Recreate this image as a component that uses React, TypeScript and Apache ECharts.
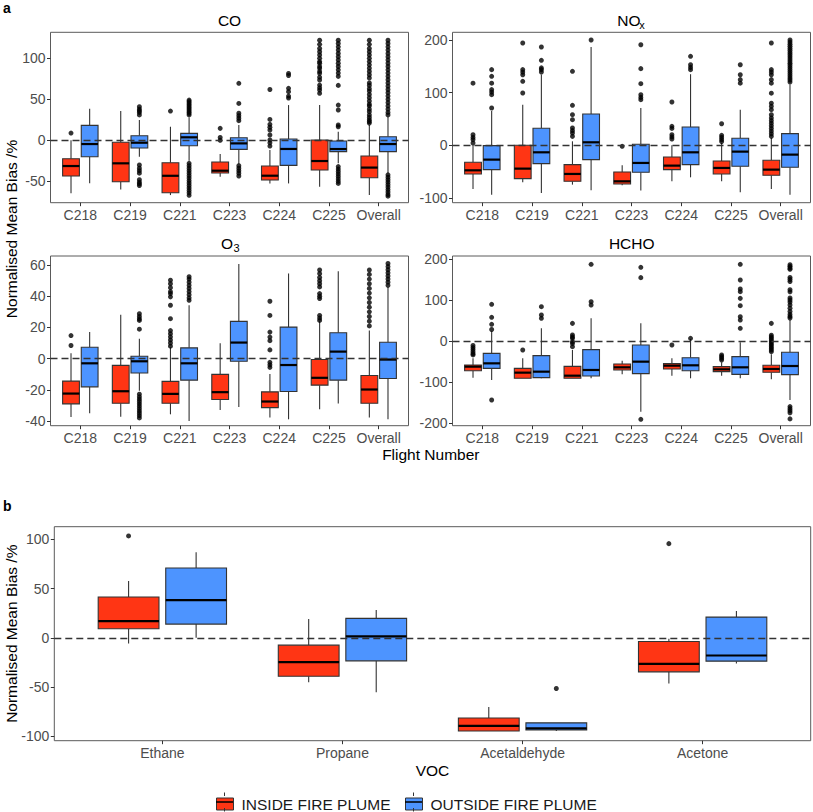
import React, { useEffect, useRef } from 'react';
import * as echarts from 'echarts';

// ---------- DATA ----------
const FLIGHTS = ['C218', 'C219', 'C221', 'C223', 'C224', 'C225', 'Overall'];
const VOCS = ['Ethane', 'Propane', 'Acetaldehyde', 'Acetone'];
const GROUPS = ['INSIDE FIRE PLUME', 'OUTSIDE FIRE PLUME'];

// box statistics: [lower whisker, Q1, median, Q3, upper whisker]
const CO_INSIDE = [
  [-64.6, -43.5, -31.3, -22.4, 0],
  [-59.8, -50.5, -28, -2.4, 35.7],
  [-66.7, -63.9, -43.2, -27.3, 16.6],
  [-44.3, -39.8, -37, -26.4, -16.7],
  [-52.5, -48.4, -43.1, -31.3, -11.8],
  [-56.5, -36.2, -25.2, 0.4, 43],
  [-66.7, -45.6, -33.2, -19.1, 18.7],
];
const CO_OUTSIDE = [
  [-52.4, -20, -4.5, 18.3, 38.5],
  [-20, -9.4, -2.9, 5.6, 24.8],
  [-25, -6.6, 3.7, 8.5, 28],
  [-29, -11, -3.7, 3.2, 18.7],
  [-52.5, -30.5, -10.5, 1.6, 43],
  [-28, -13.8, -10.6, -0.8, 10.5],
  [-40.3, -13.8, -4.5, 4.4, 28.8],
];
const CO_INSIDE_OUTLIERS = [
  [8.9],
  [],
  [35.7],
  [14.6, 3.5, 0],
  [62, 25.5, 19.5, 16, 12.5, 6.5, 0.4, -3, -7],
  [122, 117, 112, 108, 104, 100, 96, 94, 90, 87.8, 84, 81.7, 77, 73.6, 67.4, 64, 61.3, 57.3],
  [122, 117, 112, 108, 104, 100, 96, 92, 88, 84, 80, 76, 70, 67, 63, 60, 56, 52, 48, 44, 42, 38, 35, 31, 28, 25, 23, 21],
];
const CO_OUTSIDE_OUTLIERS = [
  [],
  [41, 38, 36, 34, 31, -30, -34, -37, -40, -48, -51, -53, -55],
  [49, 47, 45, 43, 41, 39, 37, 35, 33, 31, -28, -31, -34, -37, -40, -43, -46, -49, -52, -55, -58, -61, -64, -67],
  [69.5, 45, 33, 30, 27, 24, -31, -34, -37, -40, -43.5],
  [81.6, 79, 63.4, 59.3, 54, 51.5],
  [122, 118, 114, 110, 106, 102, 98, 94, 90, 86, 82, 78, 67, 43, 37, 18.7, 16.6, -32, -35, -38, -41, -44, -47, -50, -52.5],
  [122, 118, 114, 110, 106, 102, 98, 94, 90, 86, 82, 78, 74, 70, 66, 62, 58, 54, 50, 46, 42, 38, 34, 31, -42, -45, -48, -51, -54, -57, -60, -63, -66, -68],
];

const NOX_INSIDE = [
  [-83, -54.4, -47.5, -32.3, 0],
  [-70.3, -63.3, -44.3, 0, 77.2],
  [-74.7, -68.4, -54.4, -36.7, 7.6],
  [-76, -73.4, -68.4, -50.6, -38],
  [-68.4, -46.2, -38.6, -22.2, 0],
  [-68.4, -54.4, -43, -29.7, 4.4],
  [-83, -57, -46.2, -28.5, 13.9],
];
const NOX_OUTSIDE = [
  [-93.7, -46.2, -27.2, -0.6, 65],
  [-90.5, -34.8, -13.3, 32.3, 134],
  [-85.4, -27.2, 5.7, 59.5, 186.7],
  [-86, -51.3, -33.5, 1.9, 70.9],
  [-60.8, -36.7, -13.3, 34.8, 135],
  [-89.2, -39.9, -12, 13.3, 67.7],
  [-93.7, -41.8, -17.7, 22.2, 115],
];
const NOX_INSIDE_OUTLIERS = [
  [118, 20, 15, 10.8, 4.4],
  [194.3, 143.7, 139, 134, 121.5, 99.4],
  [140.5, 75.9, 58.2, 48.7, 33, 28, 23.4, 17],
  [-1.9],
  [82.3, 36, 32, 20, 16, 12],
  [41, 19, 15, 10.8, 7],
  [194.3, 143.7, 139, 134, 124.7, 118, 99, 80, 74, 67.7, 58, 52, 47, 42, 37, 32, 27, 22, 17],
];
const NOX_OUTSIDE_OUTLIERS = [
  [143.7, 131, 118, 105.7, 101, 96.2, 70.9],
  [186.7, 161.4, 147, 143.7, 139],
  [200],
  [191, 145.6, 117, 96, 91, 86.7],
  [169, 153, 148, 143.7],
  [153, 134, 124.7, 118],
  [200, 196, 192, 188, 184, 180, 176, 172, 168, 164, 160, 156, 152, 148, 144, 140, 136, 132, 128, 124, 120],
];

const O3_INSIDE = [
  [-37.4, -29, -22.4, -14.4, 3.4],
  [-37.2, -28.6, -20.9, -4.3, 28.2],
  [-35.7, -28.6, -22.6, -14.6, 7.3],
  [-32.9, -26.2, -21.5, -10.1, 9.9],
  [-37.8, -31.4, -27.5, -21.3, -9.9],
  [-32.5, -17, -12.3, -0.6, 23.9],
  [-37.8, -28.6, -19.8, -10.8, 18.1],
];
const O3_OUTSIDE = [
  [-35, -18.1, -3, 7.3, 17],
  [-20.6, -9.2, -1.7, 1.5, 12.7],
  [-40, -13.8, -3, 6.9, 34.2],
  [-31, -1.7, 10.3, 23.9, 60.6],
  [-38.9, -21.1, -4.1, 20.2, 54.6],
  [-28.8, -13.8, 4.5, 16.6, 56.1],
  [-38.9, -12.7, -0.6, 10.5, 46],
];
const O3_INSIDE_OUTLIERS = [
  [14.8, 8.4],
  [],
  [50.3, 48, 45.5, 43, 41.7, 39.6, 34.2, 25.6, 18, 16, 14, 12, 10, 8],
  [],
  [36.8, 27.7, 17, 13.8, 11.5, 5.6, -2.4, -4, -5.6],
  [56.8, 54.5, 52, 50, 48, 46, 41.7, 40, 38.5, 27.7, 26, 24.5],
  [56.8, 54, 51, 48, 45, 42, 39, 36, 33, 30, 27, 24, 21],
];
const O3_OUTSIDE_OUTLIERS = [
  [],
  [28.8, 27, 25.5, 24.5, 18.9, -22.8, -24.5, -26, -27.5, -29, -30.5, -32, -33.5, -35, -36.5, -38],
  [52.5, 51, 49, 47, 45, 43, 41, 39, 37.4],
  [],
  [],
  [],
  [61, 59, 57, 55, 53, 51, 49, 47],
];

const HCHO_INSIDE = [
  [-89.4, -72.4, -62.6, -58.5, -42.3],
  [-91, -91, -77.2, -66.7, -42.3],
  [-91, -91, -84.6, -61.8, -22],
  [-81.3, -70.7, -64.2, -56, -48],
  [-84.6, -68.3, -60.2, -55.3, -42.3],
  [-84.6, -74.8, -69.1, -62.6, -52],
  [-93.5, -76.4, -68.3, -59.3, -32.5],
];
const HCHO_OUTSIDE = [
  [-95.1, -66.7, -54.5, -30.1, 24],
  [-91, -89.4, -74.8, -35.8, 30.9],
  [-91, -85.4, -70.7, -21.1, 55.3],
  [-172.4, -79.7, -50.4, -9.8, 43],
  [-91, -72.4, -59.3, -40.7, 4.9],
  [-91, -81.3, -64.2, -38.2, -3.3],
  [-143.9, -82.1, -61, -27.6, 51.2],
];
const HCHO_INSIDE_OUTLIERS = [
  [-11, -16, -21, -26, -31, -34],
  [-22],
  [43, 14.6, 10, 6.5, -1.6, -6, -13.8],
  [],
  [-9.8],
  [-34, -38, -42, -46.3],
  [43, 14, 10, 6, 2, -2, -6, -10, -14, -18, -22, -26],
];
const HCHO_OUTSIDE_OUTLIERS = [
  [89.4, 57.7, 40.7, 28, -143.9],
  [83.7, 63.4, 55.3],
  [187, 95.9, 87.8],
  [179.7, 154.5, -191],
  [6.5],
  [187, 148.8, 126.8, 120.3, 104, 86.2, 59.3, 51.2, 30.9],
  [186, 182, 178, 175, 155, 150, 145, 125, 120, 105, 100, 95, 88, 80, 72, 65, 60, 56, -160, -165, -170, -175, -190],
];

const VOC_INSIDE = [
  [-5.8, 9.2, 16.9, 41.4, 57.6],
  [-45.1, -39, -24.7, -7.5, 19],
  [-94.6, -94.6, -89.5, -81.4, -70.2],
  [-46.4, -34.6, -26.4, -3.7, -1],
];
const VOC_OUTSIDE = [
  [0, 13.9, 38.3, 70.8, 86.8],
  [-55.3, -23.4, 1.4, 19.7, 28.1],
  [-94.6, -93.6, -91.9, -86.4, -86.4],
  [-26.1, -23.7, -18, 21, 27.1],
];
const VOC_INSIDE_OUTLIERS = [[103.4], [], [], [95.6]];
const VOC_OUTSIDE_OUTLIERS = [[], [], [-51.5], []];

// tick labels
const CO_TICKS = [-50, 0, 50, 100];
const NOX_TICKS = [-100, 0, 100, 200];
const O3_TICKS = [-40, -20, 0, 20, 40, 60];
const HCHO_TICKS = [-200, -100, 0, 100, 200];
const VOC_TICKS = [-100, -50, 0, 50, 100];

// ---------- STYLE ----------
const FONT = '"Liberation Sans", Arial, Helvetica, sans-serif';
const COLORS = ['#FF3514', '#4D94FF'];
const DODGE = 0.1875;
const BOX_W = 0.3375;
const LINE = '#333333';

function makeRender(off: number, color: string) {
  return (_params: any, api: any) => {
    const x = api.value(0) + off;
    const lo = api.coord([x, api.value(1)]);
    const q1 = api.coord([x, api.value(2)]);
    const med = api.coord([x, api.value(3)]);
    const q3 = api.coord([x, api.value(4)]);
    const hi = api.coord([x, api.value(5)]);
    const cx = med[0];
    const w = api.size([BOX_W, 0])[0];
    return {
      type: 'group',
      children: [
        { type: 'line', shape: { x1: cx, y1: hi[1], x2: cx, y2: q3[1] }, style: { stroke: LINE, lineWidth: 1.1 } },
        { type: 'line', shape: { x1: cx, y1: q1[1], x2: cx, y2: lo[1] }, style: { stroke: LINE, lineWidth: 1.1 } },
        {
          type: 'rect',
          shape: { x: cx - w / 2, y: q3[1], width: w, height: q1[1] - q3[1] },
          style: { fill: color, stroke: LINE, lineWidth: 1.1 },
        },
        { type: 'line', shape: { x1: cx - w / 2, y1: med[1], x2: cx + w / 2, y2: med[1] }, style: { stroke: '#000', lineWidth: 2.2 } },
      ],
    };
  };
}

interface Panel {
  cats: string[];
  inside: number[][];
  outside: number[][];
  inOut: number[][];
  outOut: number[][];
  ticks: number[];
  yMin: number;
  yMax: number;
  grid: { left: number; top: number; width: number; height: number };
}

const PANELS: Panel[] = [
  { cats: FLIGHTS, inside: CO_INSIDE, outside: CO_OUTSIDE, inOut: CO_INSIDE_OUTLIERS, outOut: CO_OUTSIDE_OUTLIERS, ticks: CO_TICKS, yMin: -76, yMax: 131.7, grid: { left: 50.5, top: 32.3, width: 358, height: 170.4 } },
  { cats: FLIGHTS, inside: NOX_INSIDE, outside: NOX_OUTSIDE, inOut: NOX_INSIDE_OUTLIERS, outOut: NOX_OUTSIDE_OUTLIERS, ticks: NOX_TICKS, yMin: -109, yMax: 214.6, grid: { left: 452.5, top: 32.3, width: 358, height: 170.4 } },
  { cats: FLIGHTS, inside: O3_INSIDE, outside: O3_OUTSIDE, inOut: O3_INSIDE_OUTLIERS, outOut: O3_OUTSIDE_OUTLIERS, ticks: O3_TICKS, yMin: -43, yMax: 65.8, grid: { left: 50.5, top: 256, width: 358, height: 169.7 } },
  { cats: FLIGHTS, inside: HCHO_INSIDE, outside: HCHO_OUTSIDE, inOut: HCHO_INSIDE_OUTLIERS, outOut: HCHO_OUTSIDE_OUTLIERS, ticks: HCHO_TICKS, yMin: -206.6, yMax: 207.3, grid: { left: 452.5, top: 256, width: 358, height: 169.7 } },
  { cats: VOCS, inside: VOC_INSIDE, outside: VOC_OUTSIDE, inOut: VOC_INSIDE_OUTLIERS, outOut: VOC_OUTSIDE_OUTLIERS, ticks: VOC_TICKS, yMin: -104.5, yMax: 112.8, grid: { left: 54.3, top: 526.7, width: 756.4, height: 214 } },
];

function buildOption() {
  const grid: any[] = [];
  const xAxis: any[] = [];
  const yAxis: any[] = [];
  const series: any[] = [];

  PANELS.forEach((p, idx) => {
    grid.push({ ...p.grid, show: true, borderColor: '#5a5a5a', borderWidth: 1, backgroundColor: 'transparent' });
    const catIdx = p.cats.map((_, i) => i);
    xAxis.push({
      type: 'value',
      gridIndex: idx,
      position: 'bottom',
      min: -0.6,
      max: p.cats.length - 0.4,
      splitLine: { show: false },
      axisLine: { show: false, onZero: false },
      axisTick: { show: true, customValues: catIdx, length: 3.5, lineStyle: { color: LINE } },
      axisLabel: {
        customValues: catIdx,
        formatter: (v: number) => p.cats[Math.round(v)] ?? '',
        fontSize: 14,
        color: '#4D4D4D',
        fontFamily: FONT,
        margin: 5,
      },
    });
    yAxis.push({
      type: 'value',
      gridIndex: idx,
      position: 'left',
      min: p.yMin,
      max: p.yMax,
      splitLine: { show: false },
      axisLine: { show: false, onZero: false },
      axisTick: { show: true, customValues: p.ticks, length: 3.5, lineStyle: { color: LINE } },
      axisLabel: { customValues: p.ticks, fontSize: 14, color: '#4D4D4D', fontFamily: FONT, margin: 5 },
    });

    const statSets = [p.inside, p.outside];
    const outSets = [p.inOut, p.outOut];
    [0, 1].forEach((g) => {
      const off = g === 0 ? -DODGE : DODGE;
      series.push({
        type: 'custom',
        name: GROUPS[g],
        xAxisIndex: idx,
        yAxisIndex: idx,
        z: 2,
        itemStyle: { color: COLORS[g], borderColor: LINE, borderWidth: 1 },
        renderItem: makeRender(off, COLORS[g]),
        encode: { x: 0, y: [1, 2, 3, 4, 5] },
        data: statSets[g].map((s, i) => [i, ...s]),
        silent: true,
      });
      series.push({
        type: 'scatter',
        name: GROUPS[g] + ' outliers',
        xAxisIndex: idx,
        yAxisIndex: idx,
        z: 3,
        symbolSize: 5,
        itemStyle: { color: '#000' },
        silent: true,
        data: outSets[g].flatMap((arr, i) => arr.map((v) => [i + off, v])),
      });
    });
    series.push({
      type: 'line',
      name: 'zero',
      xAxisIndex: idx,
      yAxisIndex: idx,
      z: 4,
      data: [],
      markLine: {
        silent: true,
        symbol: ['none', 'none'],
        label: { show: false },
        lineStyle: { color: '#333', type: [7, 4], width: 1.4 },
        data: [{ yAxis: 0 }],
      },
    });
  });

  const titleStyle = { fill: '#000', fontSize: 15.5, fontFamily: FONT, fontWeight: 'normal' };
  const graphic: any[] = [
    { type: 'text', x: 3, y: 8, style: { text: 'a', fontSize: 14, fontWeight: 'bold', fontFamily: FONT, fill: '#000', textVerticalAlign: 'middle' } },
    { type: 'text', x: 3, y: 506, style: { text: 'b', fontSize: 14, fontWeight: 'bold', fontFamily: FONT, fill: '#000', textVerticalAlign: 'middle' } },
    { type: 'text', x: 229.5, y: 20, style: { ...titleStyle, text: 'CO', textAlign: 'center', textVerticalAlign: 'middle' } },
    { type: 'text', x: 617.3, y: 20, style: { ...titleStyle, text: 'NO', textAlign: 'left', textVerticalAlign: 'middle' } },
    { type: 'text', x: 639.2, y: 24.5, style: { ...titleStyle, fontSize: 11, text: 'x', textAlign: 'left', textVerticalAlign: 'middle' } },
    { type: 'text', x: 220.9, y: 243.3, style: { ...titleStyle, text: 'O', textAlign: 'left', textVerticalAlign: 'middle' } },
    { type: 'text', x: 233.4, y: 247.5, style: { ...titleStyle, fontSize: 11, text: '3', textAlign: 'left', textVerticalAlign: 'middle' } },
    { type: 'text', x: 631.7, y: 243.3, style: { ...titleStyle, text: 'HCHO', textAlign: 'center', textVerticalAlign: 'middle' } },
    { type: 'text', x: 430.8, y: 454.5, style: { ...titleStyle, text: 'Flight Number', textAlign: 'center', textVerticalAlign: 'middle' } },
    { type: 'text', x: 11, y: 229, rotation: Math.PI / 2, style: { ...titleStyle, text: 'Normalised Mean Bias /%', textAlign: 'center', textVerticalAlign: 'middle' } },
    { type: 'text', x: 432.5, y: 770, style: { ...titleStyle, text: 'VOC', textAlign: 'center', textVerticalAlign: 'middle' } },
    { type: 'text', x: 11, y: 633.7, rotation: Math.PI / 2, style: { ...titleStyle, text: 'Normalised Mean Bias /%', textAlign: 'center', textVerticalAlign: 'middle' } },
  ];
  // legend glyph overlays (median + whisker stubs)
  [224.5, 413.5].forEach((cx) => {
    graphic.push({ type: 'line', z: 100, shape: { x1: cx - 8.5, y1: 802, x2: cx + 8.5, y2: 802 }, style: { stroke: '#000', lineWidth: 1.5 } });
    graphic.push({ type: 'line', z: 100, shape: { x1: cx, y1: 792.5, x2: cx, y2: 796 }, style: { stroke: LINE, lineWidth: 1 } });
    graphic.push({ type: 'line', z: 100, shape: { x1: cx, y1: 808, x2: cx, y2: 811.5 }, style: { stroke: LINE, lineWidth: 1 } });
  });

  const legendBase = {
    orient: 'horizontal',
    top: 791,
    itemWidth: 17,
    itemHeight: 12,
    selectedMode: false,
    textStyle: { fontSize: 15.5, color: '#1a1a1a', fontFamily: FONT, padding: [0, 0, 0, 3] },
    itemStyle: { borderColor: LINE, borderWidth: 1 },
  };

  return {
    animation: false,
    textStyle: { fontFamily: FONT },
    grid,
    xAxis,
    yAxis,
    series,
    graphic,
    legend: [
      { ...legendBase, left: 211, data: [{ name: GROUPS[0], icon: 'rect', itemStyle: { color: COLORS[0], borderColor: LINE, borderWidth: 1 } }] },
      { ...legendBase, left: 400, data: [{ name: GROUPS[1], icon: 'rect', itemStyle: { color: COLORS[1], borderColor: LINE, borderWidth: 1 } }] },
    ],
  };
}

export default function App() {
  const ref = useRef<HTMLDivElement>(null);
  useEffect(() => {
    if (!ref.current) return;
    const chart = echarts.init(ref.current, undefined, { renderer: 'svg' });
    chart.setOption(buildOption() as any);
    return () => chart.dispose();
  }, []);
  return (
    <div
      ref={ref}
      style={{ position: 'absolute', left: 0, top: 0, width: 813, height: 812, background: '#fff' }}
    />
  );
}
